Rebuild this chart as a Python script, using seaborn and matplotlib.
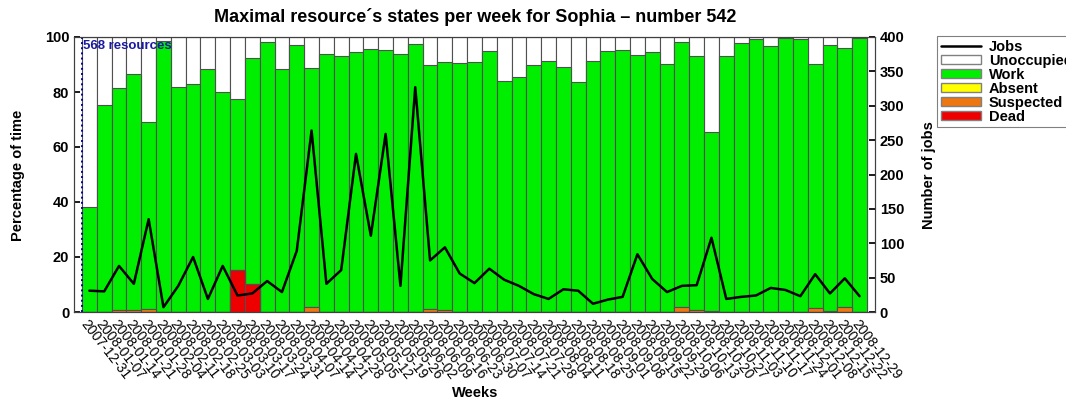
import matplotlib.pyplot as plt
import numpy as np
import pandas as pd
import seaborn as sns
from matplotlib.lines import Line2D
from matplotlib.patches import Patch

sns.set_theme(style="ticks")
plt.rcParams["font.family"] = ["Liberation Sans", "DejaVu Sans"]
plt.rcParams["text.color"] = "black"
plt.rcParams["xtick.color"] = "black"
plt.rcParams["ytick.color"] = "black"

weeks = [
    "2007-12-31", "2008-01-07", "2008-01-14", "2008-01-21", "2008-01-28",
    "2008-02-04", "2008-02-11", "2008-02-18", "2008-02-25", "2008-03-03",
    "2008-03-10", "2008-03-17", "2008-03-24", "2008-03-31", "2008-04-07",
    "2008-04-14", "2008-04-21", "2008-04-28", "2008-05-05", "2008-05-12",
    "2008-05-19", "2008-05-26", "2008-06-02", "2008-06-09", "2008-06-16",
    "2008-06-23", "2008-06-30", "2008-07-07", "2008-07-14", "2008-07-21",
    "2008-07-28", "2008-08-04", "2008-08-11", "2008-08-18", "2008-08-25",
    "2008-09-01", "2008-09-08", "2008-09-15", "2008-09-22", "2008-09-29",
    "2008-10-06", "2008-10-13", "2008-10-20", "2008-10-27", "2008-11-03",
    "2008-11-10", "2008-11-17", "2008-11-24", "2008-12-01", "2008-12-08",
    "2008-12-15", "2008-12-22", "2008-12-29",
]

# percentage of time per state
work = [38.3, 75.3, 80.7, 86.1, 67.8, 98.5, 81.7, 82.8, 88.2, 80.0,
        62.0, 82.2, 98.3, 88.2, 97.1, 86.8, 93.8, 93.1, 94.4, 95.6,
        95.3, 93.8, 97.3, 88.9, 90.0, 90.7, 90.8, 94.9, 84.1, 85.3,
        89.9, 91.2, 89.2, 83.8, 91.2, 95.0, 95.2, 93.3, 94.7, 90.2,
        96.4, 92.3, 64.9, 93.1, 97.9, 99.2, 96.8, 99.6, 99.2, 88.6,
        96.7, 94.4, 99.6]
absent = [0.0] * 53
suspected = [0.0, 0.0, 0.6, 0.6, 1.2, 0.0, 0.0, 0.0, 0.0, 0.0,
             0.0, 0.0, 0.0, 0.0, 0.0, 2.0, 0.0, 0.0, 0.0, 0.0,
             0.0, 0.0, 0.0, 1.0, 0.8, 0.0, 0.0, 0.0, 0.0, 0.0,
             0.0, 0.0, 0.0, 0.0, 0.0, 0.0, 0.0, 0.0, 0.0, 0.0,
             1.8, 0.7, 0.4, 0.0, 0.0, 0.0, 0.0, 0.0, 0.0, 1.6,
             0.4, 1.7, 0.0]
dead = [0.0] * 10 + [15.3, 10.2] + [0.0] * 41

jobs = [31, 30, 67, 41, 135, 7, 38, 80, 19, 67,
        24, 27, 45, 29, 89, 264, 41, 61, 230, 111,
        259, 38, 327, 75, 94, 56, 42, 63, 47, 38,
        26, 19, 33, 31, 12, 18, 22, 84, 48, 29,
        38, 39, 108, 19, 22, 24, 35, 32, 23, 55,
        27, 49, 23]

df = pd.DataFrame({"week": weeks, "work": work, "absent": absent,
                   "suspected": suspected, "dead": dead, "jobs": jobs})
# cumulative heights, drawn from the tallest down
df["c_dead"] = df["dead"]
df["c_susp"] = df["c_dead"] + df["suspected"]
df["c_abs"] = df["c_susp"] + df["absent"]
df["c_work"] = df["c_abs"] + df["work"]
df["c_unocc"] = 100.0

colors = {"Unoccupied": "white", "Work": "#00ee00", "Absent": "#ffff00",
          "Suspected": "#ee7711", "Dead": "#ee0000"}
edge = "#505050"

fig = plt.figure(figsize=(10.66, 4.01), dpi=100)
ax = fig.add_axes([74 / 1066, 1 - 312 / 401, (875 - 74) / 1066, (312 - 37) / 401])

layers = [("c_unocc", "Unoccupied"), ("c_work", "Work"), ("c_abs", "Absent"),
          ("c_susp", "Suspected"), ("c_dead", "Dead")]
for col, name in layers:
    sns.barplot(data=df, x="week", y=col, color=colors[name], saturation=1,
                width=1.0, edgecolor=edge, linewidth=0.8, errorbar=None, ax=ax)

ax2 = ax.twinx()
sns.lineplot(x=np.arange(len(weeks)), y=df["jobs"], color="black",
             linewidth=1.8, ax=ax2)

ax.set_xlim(-1.04, len(weeks) - 1 + 1.04)
ax.set_ylim(0, 100)
ax.set_yticks(range(0, 101, 20))
ax2.set_ylim(0, 400)
ax2.set_yticks(range(0, 401, 50))
ax.set_xlabel("")
ax.set_ylabel("")
ax2.set_ylabel("")

ax.set_xticks(range(len(weeks)))
ax.set_xticklabels(weeks, rotation=-52, ha="left", va="top",
                   rotation_mode="anchor", fontsize=10)
ax.tick_params(axis="x", direction="in", top=True, length=3, pad=4)
ax.tick_params(axis="y", direction="in", length=4, labelsize=10.5)
ax2.tick_params(axis="y", direction="in", length=4, labelsize=10.5)
for lab in ax.get_yticklabels() + ax2.get_yticklabels():
    lab.set_fontweight("bold")

for sp in list(ax.spines.values()) + list(ax2.spines.values()):
    sp.set_color("#404040")
    sp.set_linewidth(0.8)

ax.axvline(-0.5, color="#0000aa", linestyle=":", linewidth=1.4)
ax.text(-0.42, 99, "568 resources", color="#1a1aa0", fontsize=9.5,
        fontweight="bold", va="top", ha="left")

fig.text(475 / 1066, 1 - 17 / 401,
         "Maximal resource\u00b4s states per week for Sophia \u2013 number 542",
         ha="center", va="center", fontsize=13, fontweight="bold")
fig.text(18 / 1066, 1 - 175 / 401, "Percentage of time", rotation=90,
         ha="center", va="center", fontsize=10.5, fontweight="bold")
fig.text(929 / 1066, 1 - 175 / 401, "Number of jobs", rotation=90,
         ha="center", va="center", fontsize=10.5, fontweight="bold")
fig.text(475 / 1066, 1 - 393 / 401, "Weeks", ha="center", va="center",
         fontsize=10.5, fontweight="bold")

handles = [Line2D([0], [0], color="black", linewidth=1.8)]
handles += [Patch(facecolor=colors[n], edgecolor="#808080")
            for n in ["Unoccupied", "Work", "Absent", "Suspected", "Dead"]]
leg = fig.legend(handles, ["Jobs", "Unoccupied", "Work", "Absent", "Suspected", "Dead"],
                 loc="upper left", bbox_to_anchor=(937 / 1066, 1 - 36 / 401),
                 frameon=True, fancybox=False, edgecolor="#606060",
                 fontsize=10.5, handlelength=2.8, handleheight=0.6,
                 labelspacing=0.0, borderpad=0.25, borderaxespad=0,
                 handletextpad=0.5)
leg.get_frame().set_linewidth(0.8)
for t in leg.get_texts():
    t.set_fontweight("bold")

fig.savefig("out.png", dpi=100)
